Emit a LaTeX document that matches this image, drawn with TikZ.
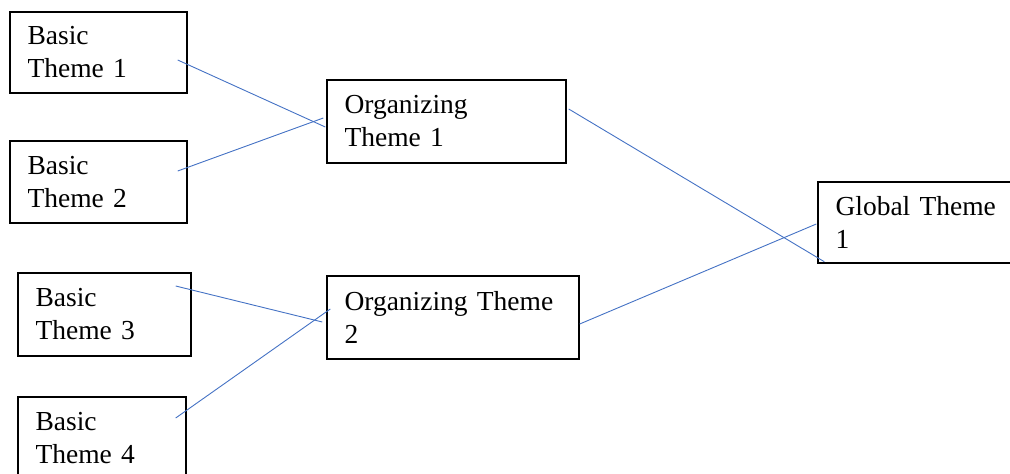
\documentclass[tikz,border=0pt]{standalone}
\usepackage{fontspec}
\setmainfont{Liberation Serif}
\usetikzlibrary{calc}
\definecolor{linkblue}{RGB}{68,114,196}
\begin{document}
\begin{tikzpicture}[x=1pt,y=-1pt,
  theme/.style={draw=black, line width=1.4pt, rectangle, align=left,
    inner xsep=17.5pt, inner ysep=2pt,
    font=\fontsize{27.5}{33}\selectfont},
  link/.style={draw=linkblue, line width=0.9pt}]
  \useasboundingbox (0,0) rectangle (1010,474);
  \clip (0,0) rectangle (1010,474);

  % basic themes
  \node[theme, text width=142pt, minimum height=81pt] (b1) at (98.5,52.5) {Basic\\Theme 1};
  \node[theme, text width=142pt, minimum height=82pt] (b2) at (98.5,182) {Basic\\Theme 2};
  \node[theme, text width=138pt, minimum height=83pt] (b3) at (104.5,314.5) {Basic\\Theme 3};
  \node[theme, text width=133pt, minimum height=83pt] (b4) at (102,438.5) {Basic\\Theme 4};

  % organizing themes
  \node[theme, text width=204pt, minimum height=83pt] (o1) at (446.5,121.5) {Organizing\\Theme 1};
  \node[theme, text width=217pt, minimum height=83pt] (o2) at (453,317.5) {Organizing Theme\\2};

  % global theme
  \node[theme, text width=167pt, minimum height=81pt] (g1) at (919,222.5) {Global Theme\\1};

  % connector end points
  \coordinate (b1r) at ($(b1.east)+(-10,7.5)$);
  \coordinate (b2r) at ($(b2.east)+(-10,-11)$);
  \coordinate (b3r) at ($(b3.east)+(-16,-28.5)$);
  \coordinate (b4r) at ($(b4.east)+(-11,-20.5)$);
  \coordinate (o1a) at ($(o1.west)+(-1,5.5)$);
  \coordinate (o1b) at ($(o1.west)+(-3,-3.5)$);
  \coordinate (o2a) at ($(o2.west)+(-4,4.5)$);
  \coordinate (o2b) at ($(o2.west)+(4,-8.5)$);
  \coordinate (o1r) at ($(o1.east)+(2,-12.5)$);
  \coordinate (o2r) at ($(o2.east)+(0,6.5)$);
  \coordinate (g1a) at ($(g1.south west)+(7,-2)$);
  \coordinate (g1b) at ($(g1.west)+(-1,1.5)$);

  % connectors
  \draw[link] (b1r) -- (o1a);
  \draw[link] (b2r) -- (o1b);
  \draw[link] (b3r) -- (o2a);
  \draw[link] (b4r) -- (o2b);
  \draw[link] (o1r) -- (g1a);
  \draw[link] (o2r) -- (g1b);
\end{tikzpicture}
\end{document}
